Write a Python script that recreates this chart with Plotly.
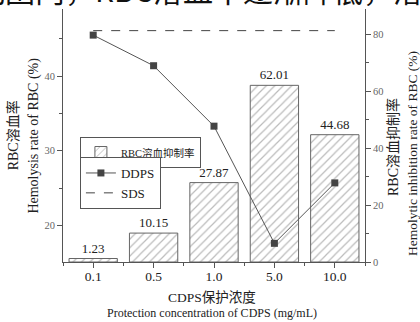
import plotly.graph_objects as go

categories = ["0.1", "0.5", "1.0", "5.0", "10.0"]
inhibition_rate = [1.23, 10.15, 27.87, 62.01, 44.68]
ddps_hemolysis = [45.5, 41.4, 33.3, 17.6, 25.7]
sds_hemolysis = [46.1, 46.1, 46.1, 46.1, 46.1]
left_ticks = [20, 30, 40]
right_ticks = [0, 20, 40, 60, 80]

xpos = list(range(len(categories)))
SERIF = "Liberation Serif, Noto Sans CJK SC, serif"
AX = "#555555"

fig = go.Figure()
fig.add_trace(go.Bar(
    x=xpos, y=inhibition_rate, name="RBC溶血抑制率", width=0.8,
    marker=dict(color="white", line=dict(color="#666666", width=1),
                pattern=dict(shape="/", fgcolor="#777777", bgcolor="white", size=6, solidity=0.2)),
    texttemplate="%{y:.2f}", textposition="outside", cliponaxis=False,
    textfont=dict(family=SERIF, size=13, color="#222222"),
    yaxis="y", legend="legend", showlegend=True,
))
fig.add_trace(go.Scatter(
    x=xpos, y=ddps_hemolysis, name="DDPS", mode="lines+markers",
    line=dict(color="#555555", width=1),
    marker=dict(symbol="square", size=7, color="#444444"),
    yaxis="y2", legend="legend2", showlegend=True,
))
fig.add_trace(go.Scatter(
    x=xpos, y=sds_hemolysis, name="SDS", mode="lines",
    line=dict(color="#444444", width=1, dash="dash"),
    yaxis="y2", legend="legend2", showlegend=True,
))

def title_ann(text, x, y, angle, size):
    return dict(text=text, xref="paper", yref="paper", x=x, y=y,
                xanchor="center", yanchor="middle", textangle=angle, showarrow=False,
                font=dict(family=SERIF, size=size, color="#222222"))

fig.update_layout(
    width=420, height=322,
    margin=dict(l=63, r=55, t=9, b=60, autoexpand=False),
    paper_bgcolor="white", plot_bgcolor="white",
    font=dict(family=SERIF, color="#222222"),
    showlegend=True,
    xaxis=dict(
        range=[-0.5, 4.5], tickvals=xpos, ticktext=categories, automargin=False,
        ticks="outside", ticklen=5, tickcolor=AX, showline=True, linecolor=AX, linewidth=1,
        showgrid=False, zeroline=False, ticklabelstandoff=-3,
        tickfont=dict(size=13.5, color="#222222"),
        minor=dict(ticks="outside", dtick=0.5, tick0=-0.5, ticklen=3, tickcolor=AX),
    ),
    yaxis=dict(
        side="right", range=[0, 88.8], tickvals=right_ticks, automargin=False,
        ticks="outside", ticklen=5, tickcolor=AX, showline=True, linecolor=AX, linewidth=1,
        showgrid=False, zeroline=False,
        tickfont=dict(size=10.5, color="#666666"),
        minor=dict(ticks="outside", dtick=10, ticklen=3, tickcolor=AX),
    ),
    yaxis2=dict(
        side="left", overlaying="y", range=[15.1, 49], tickvals=left_ticks, automargin=False,
        ticks="outside", ticklen=5, tickcolor=AX, showline=True, linecolor=AX, linewidth=1,
        showgrid=False, zeroline=False,
        tickfont=dict(size=10.5, color="#666666"),
        minor=dict(ticks="outside", dtick=5, ticklen=3, tickcolor=AX),
    ),
    legend=dict(x=0.056, y=0.494, xanchor="left", yanchor="top",
                bordercolor=AX, borderwidth=1, bgcolor="white",
                font=dict(size=10.5), itemwidth=30, tracegroupgap=0),
    legend2=dict(x=0.056, y=0.415, xanchor="left", yanchor="top",
                 bordercolor=AX, borderwidth=1, bgcolor="white",
                 font=dict(size=13), itemwidth=30, tracegroupgap=0),
    annotations=[
        dict(text="范围内，RBC溶血率逐渐降低，溶血", xref="paper", yref="paper",
             x=0.5, y=1, xanchor="center", yanchor="middle", yshift=20,
             showarrow=False, font=dict(size=30, color="#111111", family="Noto Sans CJK SC")),
        title_ann("RBC溶血率", -0.166, 0.5, -90, 14),
        title_ann("Hemolysis rate of RBC (%)", -0.099, 0.5, -90, 14),
        title_ann("RBC溶血抑制率", 1.093, 0.455, -90, 14),
        title_ann("Hemolytic inhibition rate of RBC (%)", 1.155, 0.43, -90, 13.5),
        title_ann("CDPS保护浓度", 0.493, -0.142, 0, 13.5),
        title_ann("Protection concentration of CDPS (mg/mL)", 0.493, -0.202, 0, 12),
    ],
)

fig.write_html("out.html", config={"displayModeBar": False},
               post_script="document.body.style.margin='0';document.body.style.padding='0';")
